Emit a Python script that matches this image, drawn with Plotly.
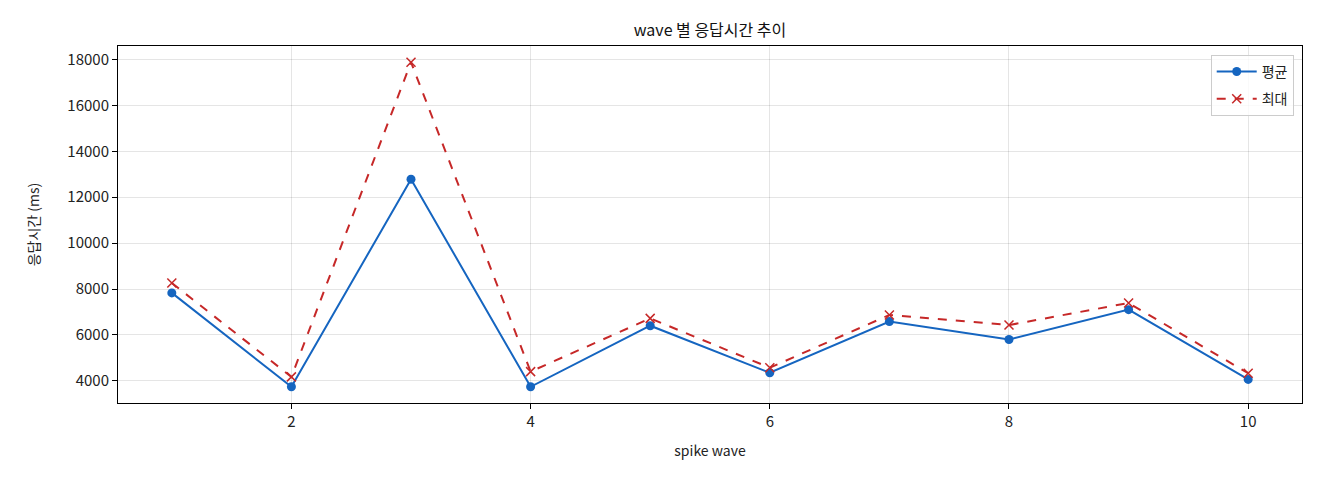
import plotly.graph_objects as go

waves = [1, 2, 3, 4, 5, 6, 7, 8, 9, 10]
avg_ms = [7830, 3740, 12780, 3740, 6400, 4350, 6580, 5800, 7100, 4060]
max_ms = [8260, 4170, 17880, 4400, 6720, 4570, 6870, 6430, 7390, 4330]

FONT = "Noto Sans CJK KR"

fig = go.Figure()

fig.add_trace(
    go.Scatter(
        x=waves,
        y=avg_ms,
        name="평균",
        legendgroup="avg",
        mode="lines+markers",
        line=dict(color="#1565c0", width=2),
        marker=dict(symbol="circle", size=9, color="#1565c0"),
    )
)

fig.add_trace(
    go.Scatter(
        x=waves,
        y=max_ms,
        name="최대",
        legendgroup="max",
        mode="lines+markers",
        line=dict(color="#c62828", width=2, dash="dash"),
        marker=dict(symbol="x-thin", size=9, line=dict(color="#c62828", width=1.5)),
    )
)

axis_style = dict(
    showline=True,
    linecolor="black",
    linewidth=1,
    mirror=True,
    ticks="outside",
    ticklen=5,
    tickcolor="black",
    showgrid=True,
    gridcolor="rgba(0,0,0,0.1)",
    zeroline=False,
    tickfont=dict(size=15, color="#222"),
)

# the page puts the figure 8px in from the top-left corner
fig.update_layout(
    width=1320,
    height=480,
    paper_bgcolor="white",
    plot_bgcolor="white",
    font=dict(family=FONT, color="#222"),
    margin=dict(l=110, r=26, t=38, b=85),
    title=dict(
        text="wave 별 응답시간 추이",
        x=0.5,
        xref="paper",
        y=1,
        yref="paper",
        yanchor="bottom",
        pad=dict(b=10),
        font=dict(size=16, color="#111"),
    ),
    legend=dict(
        x=0.993,
        y=0.975,
        xanchor="right",
        yanchor="top",
        bgcolor="rgba(255,255,255,0.8)",
        bordercolor="#ccc",
        borderwidth=1,
        font=dict(size=14),
        tracegroupgap=6,
        itemwidth=40,
    ),
)

fig.update_xaxes(
    axis_style,
    range=[0.55, 10.45],
    tickvals=[2, 4, 6, 8, 10],
    title=dict(text="spike wave", font=dict(size=14), standoff=16),
)
fig.update_yaxes(
    axis_style,
    range=[3033, 18587],
    tickvals=[4000, 6000, 8000, 10000, 12000, 14000, 16000, 18000],
    tickformat="d",
    title=dict(text="응답시간 (ms)", font=dict(size=14), standoff=24),
)

fig.write_html("out.html")
